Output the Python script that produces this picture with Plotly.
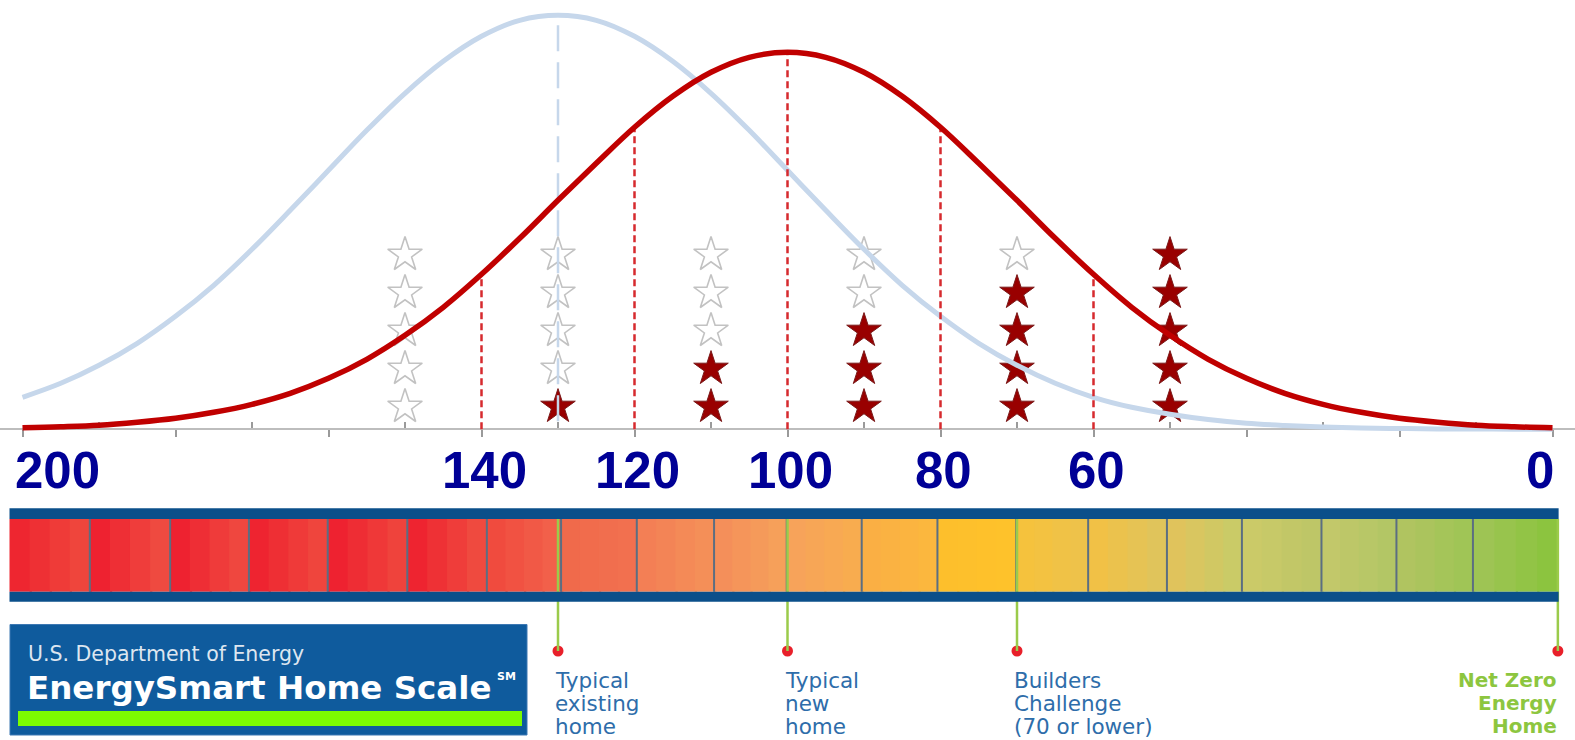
import plotly.graph_objects as go

W, H = 1575, 740
BASE = 429.3                      # pixel row of the score axis
PX_PER_UNIT = 7.65
X_LEFT = 200 + 22.5 / PX_PER_UNIT
X_RIGHT = X_LEFT - W / PX_PER_UNIT

# ------------------------------------------------------------------ data
score_grid = list(range(200, -1, -5))
new_home_curve = [1.5, 2.5, 4, 7, 11, 17, 25, 36, 51, 70, 94, 122, 155, 191,
                  229, 266, 302, 333, 357, 372, 377,
                  372, 357, 333, 302, 266, 229, 191, 155, 122, 94, 70, 51, 36,
                  25, 17, 11, 7, 4, 2.5, 1.5]
existing_home_curve = [32, 46, 64, 86, 113, 144, 180, 219, 259, 299, 336, 368,
                       393, 409, 414, 409, 393, 368, 336, 299, 259, 219, 180,
                       144, 113, 86, 64, 46, 32, 22, 15, 9.7, 6, 3.8, 2.3, 1.3,
                       0.8, 0.4, 0.3, 0.1, 0.1]
dashed_scores = [140, 120, 100, 80, 60]
existing_mean = 130

star_scores = [150, 130, 110, 90, 70, 50]
stars_filled = [0, 1, 2, 3, 4, 5]
stars_total = 5

tick_scores = [200, 140, 120, 100, 80, 60, 0]
tick_text = ["200", "140", "120", "100", "80", "60", "0"]

scale_edges = [201.7, 191.2, 180.7, 170.4, 160.1, 149.7, 139.3, 129.6, 119.7,
               109.6, 100.1, 90.3, 80.4, 70.1, 60.7, 50.4, 40.6, 30.2, 20.4,
               10.4, -0.8]
scale_start = ["#EE2630", "#EE2230", "#EE2230", "#EE2430", "#EE2230",
               "#EE2430", "#F04B3E", "#F06A4B", "#F37F55", "#F48F5A",
               "#F7A35A", "#FAAF44", "#FDBF2C", "#F5C23D", "#F1C146",
               "#E0C35C", "#CBCA68", "#C2C86A", "#B0C460", "#9EC454"]
scale_end = ["#EF453C", "#EF4A40", "#EF473F", "#EF453D", "#EF433C",
             "#EF4A3F", "#F2604A", "#F2704F", "#F48F58", "#F6A05A",
             "#F8AC4F", "#FBB73E", "#FEC22B", "#EEC24A", "#E0C45B",
             "#CACB67", "#BEC667", "#B3C665", "#A0C556", "#8CC43F"]

marker_scores = [130, 100, 70, 0]
marker_labels = ["Typical\nexisting\nhome",
                 "Typical\nnew\nhome",
                 "Builders\nChallenge\n(70 or lower)",
                 "Net Zero\nEnergy\nHome"]

# ------------------------------------------------------------------ helpers
def py(px):
    """pixel row -> y data value"""
    return BASE - px


def hex2rgb(h):
    h = h.lstrip("#")
    return [int(h[i:i + 2], 16) for i in (0, 2, 4)]


def mix(c1, c2, t):
    a, b = hex2rgb(c1), hex2rgb(c2)
    return "rgb(%d,%d,%d)" % tuple(round(a[i] + (b[i] - a[i]) * t) for i in range(3))


fig = go.Figure()

# ------------------------------------------------------------------ stars
ROW0, ROW_STEP = 22.5, 38
ex, ey, fx, fy = [], [], [], []
for s, n in zip(star_scores, stars_filled):
    for r in range(stars_total):
        yy = ROW0 + r * ROW_STEP
        if r < n:
            fx.append(s); fy.append(yy)
        else:
            ex.append(s); ey.append(yy)
fig.add_trace(go.Scatter(x=ex, y=ey, mode="markers", hoverinfo="skip",
                         marker=dict(symbol="star", size=26, color="white",
                                     line=dict(color="#C2C2C2", width=1.6))))
fig.add_trace(go.Scatter(x=fx, y=fy, mode="markers", hoverinfo="skip",
                         marker=dict(symbol="star", size=26, color="#990000",
                                     line=dict(color="#7A1A1A", width=1))))

# ------------------------------------------------------------------ curves
fig.add_trace(go.Scatter(x=score_grid, y=existing_home_curve, mode="lines",
                         line=dict(color="#C6D7EB", width=5, shape="spline"),
                         hoverinfo="skip"))
peak_blue = max(existing_home_curve)
fig.add_trace(go.Scatter(x=[existing_mean, existing_mean], y=[peak_blue - 10, 0],
                         mode="lines", hoverinfo="skip",
                         line=dict(color="#C6D7EB", width=2.5, dash="26px,11px")))
for s in dashed_scores:
    v = new_home_curve[score_grid.index(s)]
    fig.add_trace(go.Scatter(x=[s, s], y=[0, v], mode="lines", hoverinfo="skip",
                             line=dict(color="#D62A2E", width=2.5, dash="7px,4px")))
fig.add_trace(go.Scatter(x=score_grid, y=new_home_curve, mode="lines",
                         line=dict(color="#C00000", width=5.5, shape="spline"),
                         hoverinfo="skip"))

# ------------------------------------------------------------------ score labels
annotations = []
for s, t in zip(tick_scores, tick_text):
    if s == max(tick_scores):
        xa, xs = "left", -10
    elif s == min(tick_scores):
        xa, xs = "right", 3
    else:
        xa, xs = "center", 3
    annotations.append(dict(x=s, y=py(470.5), xref="x", yref="y", text=t,
                            showarrow=False, xanchor=xa, yanchor="middle", xshift=xs,
                            font=dict(family="Liberation Sans, Arial", size=51,
                                      color="#000096", weight="bold")))

# ------------------------------------------------------------------ colour scale bar
shapes = []
BAR_TOP, COL_TOP, COL_BOT, BAR_BOT = 508.3, 519, 591.7, 601.7
NB = 4
OVERLAP = 0.3
for i in range(len(scale_start)):
    x0, x1 = scale_edges[i], scale_edges[i + 1]
    for k in range(NB):
        a = x0 + (x1 - x0) * k / NB
        b = x0 + (x1 - x0) * (k + 1) / NB
        if not (i == len(scale_start) - 1 and k == NB - 1):
            b -= OVERLAP
        shapes.append(dict(type="rect", xref="x", yref="y", x0=a, x1=b,
                           y0=py(COL_BOT), y1=py(COL_TOP), line=dict(width=0),
                           fillcolor=mix(scale_start[i], scale_end[i], k / (NB - 1)),
                           layer="below"))
for e in scale_edges[1:-1]:
    shapes.append(dict(type="line", xref="x", yref="y", x0=e, x1=e,
                       y0=py(COL_BOT), y1=py(COL_TOP),
                       line=dict(color="#5B6E82", width=2)))

# markers (green lines + red dots)
marker_x = [s if s > scale_edges[-1] + 1 else scale_edges[-1] + 0.1 for s in marker_scores]
for mx in marker_x:
    shapes.append(dict(type="line", xref="x", yref="y", x0=mx, x1=mx,
                       y0=py(651), y1=py(COL_TOP),
                       line=dict(color="#9BCB4B", width=2.5)))
# border strips drawn over the green lines
for t0, t1 in [(BAR_TOP, COL_TOP), (COL_BOT, BAR_BOT)]:
    shapes.append(dict(type="rect", xref="x", yref="y", x0=scale_edges[0],
                       x1=scale_edges[-1], y0=py(t1), y1=py(t0),
                       line=dict(width=0), fillcolor="#0B4F8A"))

fig.add_trace(go.Scatter(x=marker_x, y=[py(651)] * len(marker_x), mode="markers",
                         hoverinfo="skip", cliponaxis=False,
                         marker=dict(size=11, color="#E8202A")))

for mx, lab, s in zip(marker_x, marker_labels, marker_scores):
    last = s == min(marker_scores)
    for j, line in enumerate(lab.split("\n")):
        annotations.append(dict(
            x=mx, y=py(680 + j * 23), xref="x", yref="y", text=line,
            showarrow=False, yanchor="middle",
            xanchor="right" if last else "left",
            xshift=1 if last else -5,
            font=dict(family="DejaVu Sans, Verdana", size=20 if last else 21.5,
                      color="#8DC63F" if last else "#2E6DAA",
                      weight="bold" if last else "normal")))

# ------------------------------------------------------------------ logo
def P(px):
    return 1 - px / H


def Xp(px):
    return px / W


shapes.append(dict(type="rect", xref="paper", yref="paper",
                   x0=Xp(10), x1=Xp(527), y0=P(735), y1=P(624.5),
                   fillcolor="#0F5B9D", line=dict(color="#3D78B3", width=1)))
shapes.append(dict(type="rect", xref="paper", yref="paper",
                   x0=Xp(18), x1=Xp(522), y0=P(726), y1=P(711),
                   fillcolor="#7CFC00", line=dict(width=0)))
annotations.append(dict(x=Xp(26), y=P(654), xref="paper", yref="paper",
                        text="U.S. Department of Energy", showarrow=False,
                        xanchor="left", yanchor="middle",
                        font=dict(family="DejaVu Sans, Verdana", size=20.5,
                                  color="#DDE6F0")))
annotations.append(dict(x=Xp(25), y=P(688), xref="paper", yref="paper",
                        text="EnergySmart Home Scale", showarrow=False,
                        xanchor="left", yanchor="middle",
                        font=dict(family="DejaVu Sans, Verdana", size=32.5,
                                  color="white", weight="bold")))
annotations.append(dict(x=Xp(495), y=P(676), xref="paper", yref="paper",
                        text="SM", showarrow=False, xanchor="left", yanchor="middle",
                        font=dict(family="DejaVu Sans, Verdana", size=11,
                                  color="white", weight="bold")))

# ------------------------------------------------------------------ layout
fig.update_layout(
    width=W, height=H, autosize=False,
    margin=dict(l=0, r=0, t=0, b=0, pad=0),
    paper_bgcolor="white", plot_bgcolor="white",
    showlegend=False,
    shapes=shapes, annotations=annotations,
    xaxis=dict(range=[X_LEFT, X_RIGHT], domain=[0, 1], anchor="free",
               position=(H - BASE) / H, showline=True, linecolor="#BDBDBD",
               linewidth=2, ticks="outside", ticklen=7, tickwidth=1.5,
               tickcolor="#9A9A9A", tickvals=list(range(0, 201, 20)),
               showticklabels=False, showgrid=False, zeroline=False,
               layer="below traces",
               minor=dict(tickvals=list(range(10, 200, 20)), ticks="inside",
                          ticklen=6, tickwidth=1.5, tickcolor="#9A9A9A",
                          showgrid=False),
               fixedrange=True),
    yaxis=dict(range=[BASE - H, BASE], domain=[0, 1], visible=False,
               showgrid=False, zeroline=False, fixedrange=True),
)

fig.write_html(
    "out.html",
    config={"displayModeBar": False},
    post_script="document.body.style.margin='0';document.body.style.padding='0';"
                "document.documentElement.style.overflow='hidden';",
)
